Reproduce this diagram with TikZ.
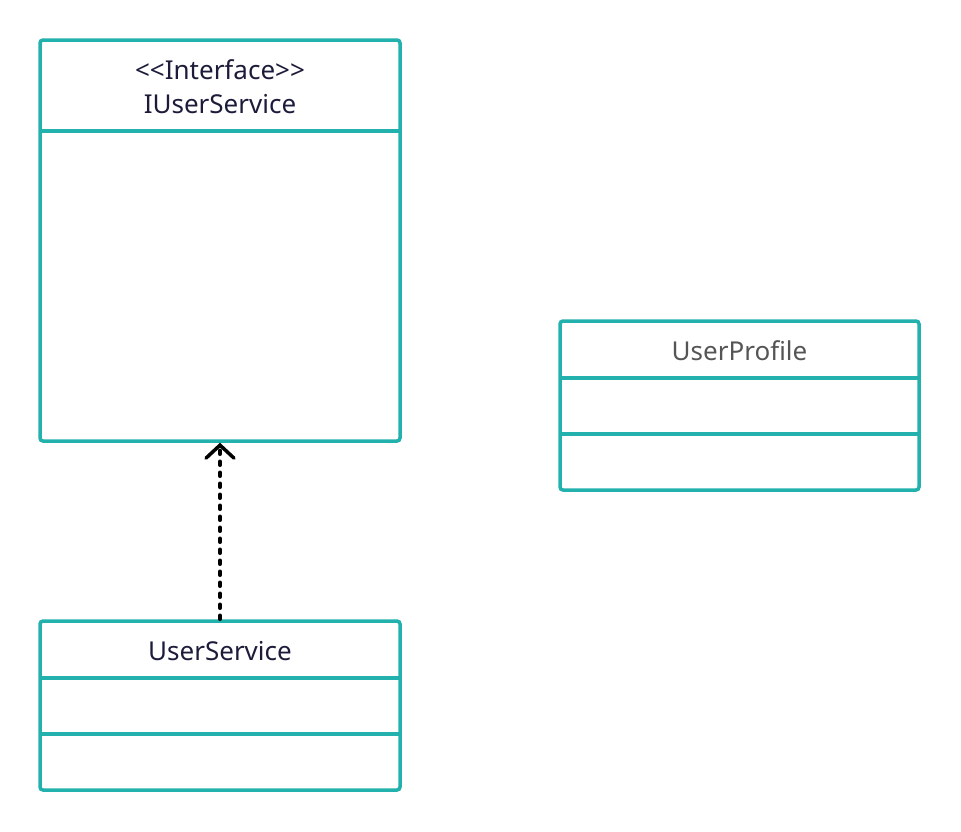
\documentclass[tikz,border=0pt]{standalone}
\usepackage{fontspec}
\setmainfont{Noto Sans}
\usetikzlibrary{arrows.meta}
\definecolor{umlteal}{HTML}{22B1AC}
\definecolor{umlink}{HTML}{1C1C3A}
\definecolor{umlgray}{HTML}{555555}
\tikzset{
  umlbox/.style = {draw = umlteal, line width = 3.5pt, rounded corners = 3pt, inner sep = 0pt},
  umlline/.style = {draw = umlteal, line width = 3.5pt},
  umlname/.style = {font = \fontsize{26}{31}\selectfont, text = umlink},
  dep/.style = {line width = 3.5pt, line cap = round, dash pattern = on 4pt off 7pt, -{Straight Barb[length=13pt, width=28pt, line cap=round]}}
}
\begin{document}
\begin{tikzpicture}[x = 1pt, y = -1pt]
    \useasboundingbox (0,0) rectangle (961,831);
    % interface
    \node [umlbox, minimum width = 360pt, minimum height = 401pt] (iface) at (220,240.5) {};
    \draw [umlline] (40,131) -- (400,131);
    \node [umlname] (stereo) at (220,70) {<{}<Interface>{}>};
    \node [umlname] (ifacename) at (220,104) {IUserService};
    % profile
    \node [umlbox, minimum width = 359pt, minimum height = 169pt] (profile) at (739.5,405.5) {};
    \draw [umlline] (560,378) -- (919,378);
    \draw [umlline] (560,434) -- (919,434);
    \node [umlname, text = umlgray] (profilename) at (739.5,351) {UserProfile};
    % service
    \node [umlbox, minimum width = 360pt, minimum height = 169pt] (svc) at (220,705.5) {};
    \draw [umlline] (40,678) -- (400,678);
    \draw [umlline] (40,734) -- (400,734);
    \node [umlname] (svcname) at (220,651) {UserService};
    \draw [dep] (svc.north) -- (iface.south);
\end{tikzpicture}
\end{document}
